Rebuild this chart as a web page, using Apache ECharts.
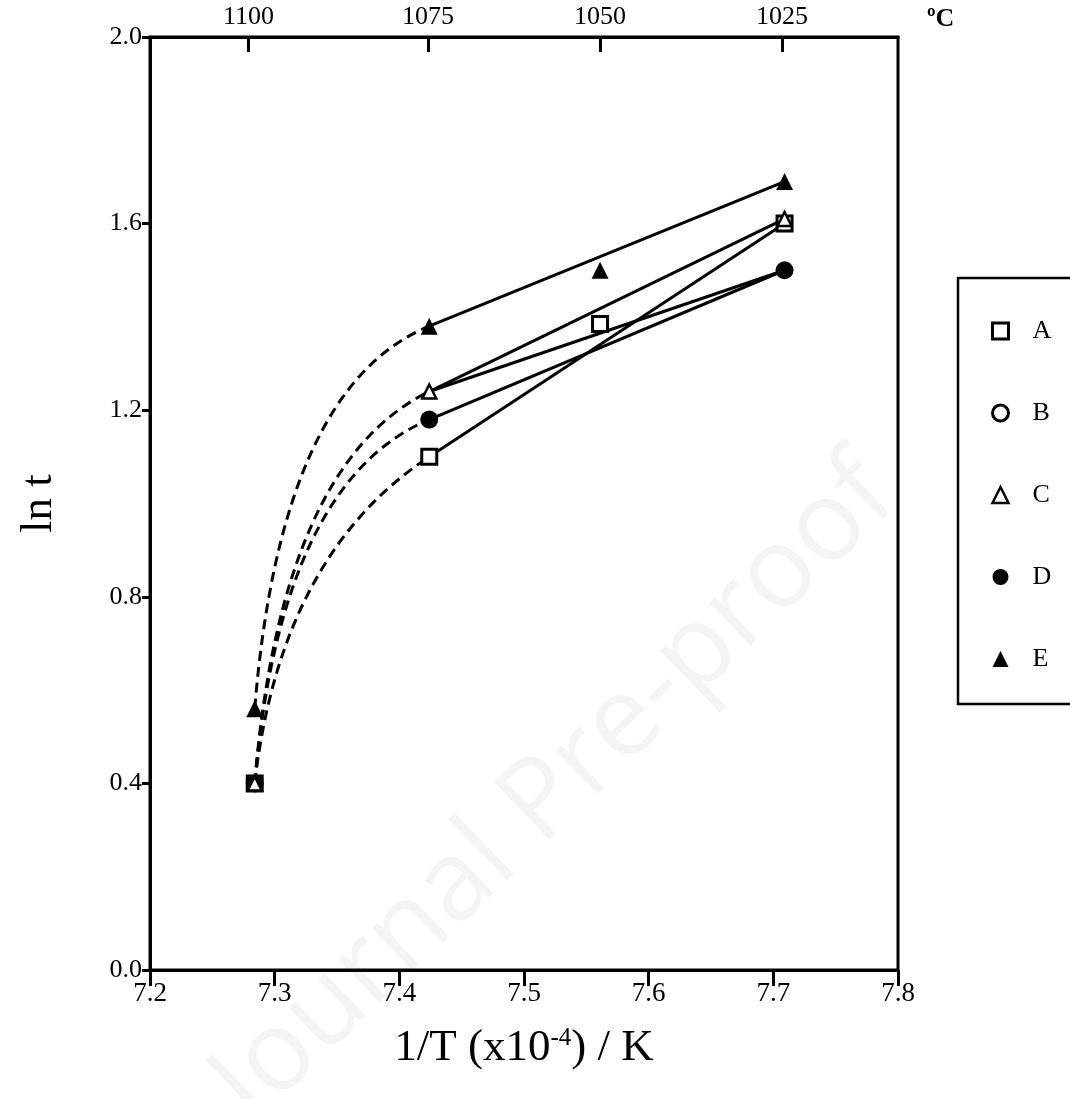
<!DOCTYPE html>
<html>
<head>
<meta charset="utf-8">
<script src="https://cdn.jsdelivr.net/npm/echarts@6/dist/echarts.min.js"></script>
<style>
  html, body { margin: 0; padding: 0; background: #fff; }
  #main { width: 1070px; height: 1099px; }
</style>
</head>
<body>
<div id="main"></div>
<script>
// x positions (1/T x10^-4) of the measured temperatures
var xT = [7.284, 7.424, 7.561, 7.709];

// markers per sample (null = no point)
var valA = [0.40, 1.10, 1.385, 1.60];
var valB = [0.40, null, null, null];
var valC = [0.40, 1.24, null, 1.61];
var valD = [0.40, 1.18, null, 1.50];
var valE = [0.56, 1.38, 1.50, 1.69];

// solid fit lines: [y at 7.424, y at 7.709]
var fitA = [1.10, 1.60];
var fitB = [1.24, 1.50];
var fitC = [1.24, 1.61];
var fitD = [1.18, 1.50];
var fitE = [1.38, 1.69];

// dashed curves: start y at 7.284 -> joins solid line start
var curveStart = { A: 0.40, C: 0.40, D: 0.40, E: 0.56 };

// top axis (degC)
var topTickVals = [7.279, 7.423, 7.561, 7.707];
var topTickLabels = ['1100', '1075', '1050', '1025'];

var serif = '"Liberation Serif", "Times New Roman", serif';

function pts(vals) {
  var out = [];
  for (var i = 0; i < vals.length; i++) {
    if (vals[i] != null) out.push([xT[i], vals[i]]);
  }
  return out;
}

function fitLine(fit) {
  return {
    type: 'line',
    data: [[xT[1], fit[0]], [xT[3], fit[1]]],
    showSymbol: false,
    symbol: 'none',
    silent: true,
    lineStyle: { color: '#000', width: 3 },
    z: 3
  };
}

var fits = { A: fitA, C: fitC, D: fitD, E: fitE };
var curveData = [];
['A', 'C', 'D', 'E'].forEach(function (k) {
  var f = fits[k];
  curveData.push([xT[0], curveStart[k], xT[1], f[0], xT[3], f[1]]);
});

var dom = document.getElementById('main');
var myChart = echarts.init(dom);

var option = {
  backgroundColor: '#fff',
  animation: false,
  grid: {
    left: 150, right: 172, top: 37, bottom: 129,
    show: true, borderColor: '#000', borderWidth: 3
  },
  legend: {
    orient: 'vertical',
    left: 958,
    top: 278,
    padding: [40, 30, 32, 33],
    itemGap: 56,
    itemWidth: 16,
    itemHeight: 16,
    borderColor: '#000',
    borderWidth: 2.5,
    textStyle: { fontFamily: serif, fontSize: 26, color: '#000', padding: [0, 0, 0, 19] },
    data: [
      { name: 'A', itemStyle: { borderWidth: 3 } },
      { name: 'B', itemStyle: { borderWidth: 3 } },
      { name: 'C', itemStyle: { borderWidth: 2.5 } },
      { name: 'D' },
      { name: 'E' }
    ]
  },
  xAxis: [{
    type: 'value',
    min: 7.2, max: 7.8, interval: 0.1,
    position: 'bottom',
    name: '1/T (x10{sup|-4}) / K',
    nameLocation: 'middle',
    nameGap: 56,
    nameTextStyle: {
      fontFamily: serif, fontSize: 45, color: '#000',
      rich: { sup: { fontFamily: serif, fontSize: 25, color: '#000', verticalAlign: 'top', padding: [0, 0, 16, 0] } }
    },
    axisLine: { show: true, lineStyle: { color: '#000', width: 3 } },
    axisTick: { show: true, inside: false, length: 16, lineStyle: { color: '#000', width: 3 } },
    axisLabel: {
      fontFamily: serif, fontSize: 27, color: '#000', margin: 10,
      formatter: function (v) { return v.toFixed(1); }
    },
    splitLine: { show: false }
  }, {
    type: 'value',
    min: 7.2, max: 7.8,
    position: 'top',
    axisLine: { show: true, lineStyle: { color: '#000', width: 3 } },
    axisTick: {
      show: true, inside: true, length: 15, customValues: topTickVals,
      lineStyle: { color: '#000', width: 3 }
    },
    axisLabel: {
      show: true, customValues: topTickVals,
      fontFamily: serif, fontSize: 26, color: '#000', margin: 7,
      formatter: function (v) {
        var best = 0;
        for (var i = 0; i < topTickVals.length; i++) {
          if (Math.abs(topTickVals[i] - v) < Math.abs(topTickVals[best] - v)) best = i;
        }
        return topTickLabels[best];
      }
    },
    splitLine: { show: false }
  }],
  yAxis: {
    type: 'value',
    min: 0, max: 2, interval: 0.4,
    name: 'ln t',
    nameLocation: 'middle',
    nameGap: 88,
    nameTextStyle: { fontFamily: serif, fontSize: 45, color: '#000' },
    axisLine: { show: true, lineStyle: { color: '#000', width: 3 } },
    axisTick: { show: true, inside: false, length: 8, lineStyle: { color: '#000', width: 3 } },
    axisLabel: {
      fontFamily: serif, fontSize: 26, color: '#000', margin: 8,
      formatter: function (v) { return v.toFixed(1); }
    },
    splitLine: { show: false }
  },
  graphic: [{
    type: 'text',
    left: 927, top: 6,
    style: { text: 'ºC', fontFamily: serif, fontSize: 26, fontWeight: 'bold', fill: '#000' }
  }, {
    type: 'text',
    x: 555, y: 790,
    rotation: Math.PI / 4.1,
    z: -10,
    style: {
      text: 'Journal Pre-proof',
      fontFamily: '"Open Sans", "Noto Sans", sans-serif',
      fontSize: 112,
      fill: 'rgba(0,0,0,0.045)',
      align: 'center',
      verticalAlign: 'middle'
    }
  }],
  series: [
    fitLine(fitA), fitLine(fitB), fitLine(fitC), fitLine(fitD), fitLine(fitE),
    {
      type: 'custom',
      silent: true,
      z: 3,
      encode: { x: [0, 2], y: [1, 3] },
      data: curveData,
      renderItem: function (params, api) {
        var p0 = api.coord([api.value(0), api.value(1)]);
        var p1 = api.coord([api.value(2), api.value(3)]);
        var p2 = api.coord([api.value(4), api.value(5)]);
        // control point: on the tangent of the following solid line
        var s = (p2[1] - p1[1]) / (p2[0] - p1[0]);
        var cx = p0[0] + 0.15 * (p1[0] - p0[0]);
        var cy = p1[1] + s * (cx - p1[0]);
        return {
          type: 'bezierCurve',
          shape: { x1: p0[0], y1: p0[1], x2: p1[0], y2: p1[1], cpx1: cx, cpy1: cy },
          style: { stroke: '#000', fill: null, lineWidth: 3, lineDash: [10, 6] }
        };
      }
    },
    {
      name: 'A', type: 'scatter', data: pts(valA), symbol: 'rect', symbolSize: 15, z: 5,
      itemStyle: { color: '#fff', borderColor: '#000', borderWidth: 3, opacity: 1 }
    },
    {
      name: 'B', type: 'scatter', data: pts(valB), symbol: 'circle', symbolSize: 12, z: 4,
      itemStyle: { color: '#fff', borderColor: '#000', borderWidth: 3, opacity: 1 }
    },
    {
      name: 'D', type: 'scatter', data: pts(valD), symbol: 'circle', symbolSize: 18, z: 5,
      itemStyle: { color: '#000', opacity: 1 }
    },
    {
      name: 'C', type: 'scatter', data: pts(valC), symbol: 'triangle', symbolSize: 14, z: 6,
      itemStyle: { color: '#fff', borderColor: '#000', borderWidth: 2.5, opacity: 1 }
    },
    {
      name: 'E', type: 'scatter', data: pts(valE), symbol: 'triangle', symbolSize: 17, z: 6,
      itemStyle: { color: '#000', opacity: 1 }
    }
  ]
};

if (option && typeof option === 'object') {
  myChart.setOption(option, true);
}
</script>
</body>
</html>
